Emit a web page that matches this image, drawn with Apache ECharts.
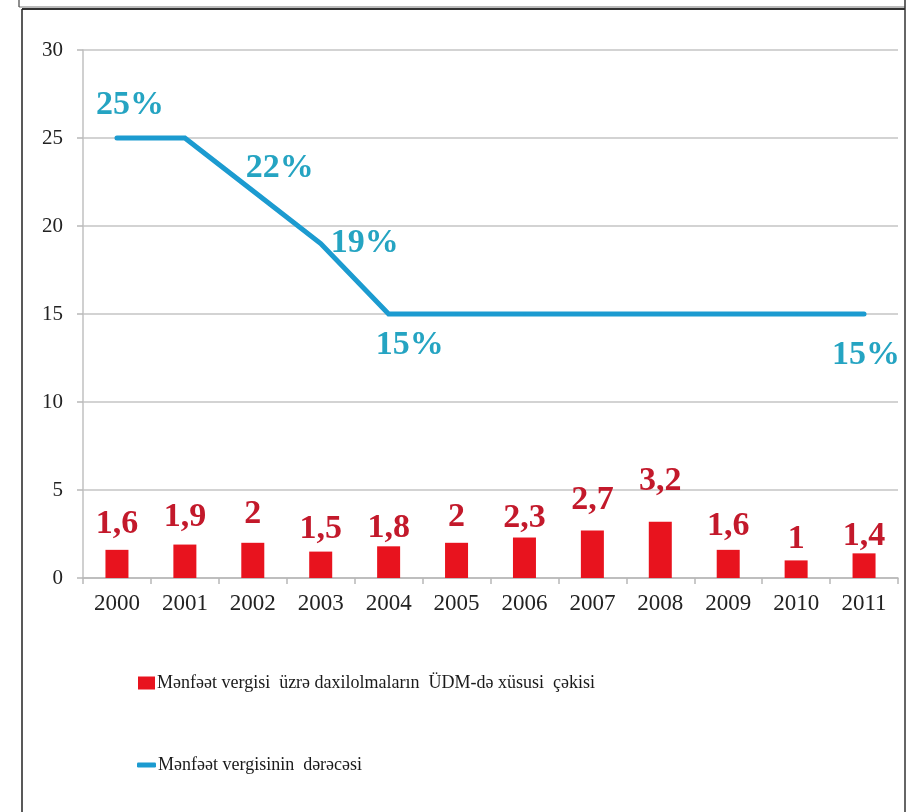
<!DOCTYPE html>
<html>
<head>
<meta charset="utf-8">
<script src="https://cdn.jsdelivr.net/npm/echarts@6/dist/echarts.min.js"></script>
<style>
html,body{margin:0;padding:0;background:#fff;}
#chart{width:920px;height:812px;}
</style>
</head>
<body>
<div id="chart"></div>
<script>
var categories = ['2000','2001','2002','2003','2004','2005','2006','2007','2008','2009','2010','2011'];
var barValues = [1.6, 1.9, 2, 1.5, 1.8, 2, 2.3, 2.7, 3.2, 1.6, 1, 1.4];
var lineValues = [25, 25, 22, 19, 15, 15, 15, 15, 15, 15, 15, 15];
var yTicks = [0, 5, 10, 15, 20, 25, 30];
var barName = 'Mənfəət vergisi  üzrə daxilolmaların  ÜDM-də xüsusi  çəkisi';
var lineName = 'Mənfəət vergisinin  dərəcəsi';

// label styling (not data)
var barLabelDist = [9, 10, 12, 5, 1, 8.5, 2, 13.5, 23, 7, 4, 0];
var lineLabelOffsets = {0: [13, -33], 2: [27, -23], 3: [44, 0], 4: [21, 31], 11: [2, 41]};

var serif = "'Liberation Serif', 'DejaVu Serif', serif";

var barData = barValues.map(function (v, i) {
  return { value: v, label: { distance: barLabelDist[i] } };
});
var lineData = lineValues.map(function (v, i) {
  var off = lineLabelOffsets[i];
  if (off) {
    return { value: v, label: { show: true, position: 'inside', offset: off } };
  }
  return { value: v, label: { show: false } };
});

var chart = echarts.init(document.getElementById('chart'), null, {renderer: 'canvas'});
chart.setOption({
  backgroundColor: '#ffffff',
  animation: false,
  grid: { left: 83, right: 22, top: 50, bottom: 234, containLabel: false },
  xAxis: {
    type: 'category',
    data: categories,
    boundaryGap: true,
    axisLine: { show: true, lineStyle: { color: '#b8b8b8', width: 1.5 } },
    axisTick: { show: true, length: 6, lineStyle: { color: '#b8b8b8', width: 1.5 } },
    axisLabel: { fontFamily: serif, fontSize: 23, color: '#222', margin: 14 },
    splitLine: { show: false }
  },
  yAxis: {
    type: 'value',
    min: yTicks[0],
    max: yTicks[yTicks.length - 1],
    interval: 5,
    axisLine: { show: true, lineStyle: { color: '#c0c0c0', width: 1.5 } },
    axisTick: { show: true, length: 6, lineStyle: { color: '#b8b8b8', width: 1.5 } },
    axisLabel: { fontFamily: serif, fontSize: 21, color: '#222', margin: 20 },
    splitLine: { show: true, lineStyle: { color: '#c4c4c4', width: 1.5 } }
  },
  legend: [
    {
      data: [{ name: barName, icon: 'rect' }],
      left: 138, top: 674, padding: 0,
      itemWidth: 17, itemHeight: 13, itemGap: 0,
      textStyle: { fontFamily: serif, fontSize: 18, color: '#1a1a1a', padding: [0, 0, 0, -3] },
      selectedMode: false
    },
    {
      data: [{ name: lineName, icon: 'roundRect' }],
      left: 137, top: 756, padding: 0,
      itemWidth: 19, itemHeight: 5,
      textStyle: { fontFamily: serif, fontSize: 18, color: '#1a1a1a', padding: [0, 0, 0, -3] },
      selectedMode: false
    }
  ],
  series: [
    {
      name: barName,
      type: 'bar',
      data: barData,
      barWidth: 23,
      itemStyle: { color: '#e8131e' },
      label: {
        show: true,
        position: 'top',
        fontFamily: serif,
        fontWeight: 'bold',
        fontSize: 34,
        color: '#c3192b',
        formatter: function (p) { return String(p.value).replace('.', ','); }
      }
    },
    {
      name: lineName,
      type: 'line',
      data: lineData,
      symbol: 'circle',
      symbolSize: 2,
      showSymbol: true,
      itemStyle: { color: '#1c9bd0' },
      lineStyle: { color: '#1c9bd0', width: 5, cap: 'round', join: 'miter' },
      label: {
        fontFamily: serif,
        fontWeight: 'bold',
        fontSize: 34,
        color: '#25a4c2',
        formatter: '{c}%'
      },
      z: 3
    }
  ],
  graphic: [
    { type: 'line', shape: { x1: 19, y1: 7, x2: 905, y2: 7 }, style: { stroke: '#777', lineWidth: 1 } },
    { type: 'line', shape: { x1: 19, y1: 0, x2: 19, y2: 7 }, style: { stroke: '#444', lineWidth: 1.2 } },
    { type: 'line', shape: { x1: 22, y1: 9, x2: 905, y2: 9 }, style: { stroke: '#333', lineWidth: 2 } },
    { type: 'line', shape: { x1: 22, y1: 9, x2: 22, y2: 812 }, style: { stroke: '#222', lineWidth: 1.5 } },
    { type: 'line', shape: { x1: 905, y1: 0, x2: 905, y2: 812 }, style: { stroke: '#333', lineWidth: 1.5 } }
  ]
});
</script>
</body>
</html>
